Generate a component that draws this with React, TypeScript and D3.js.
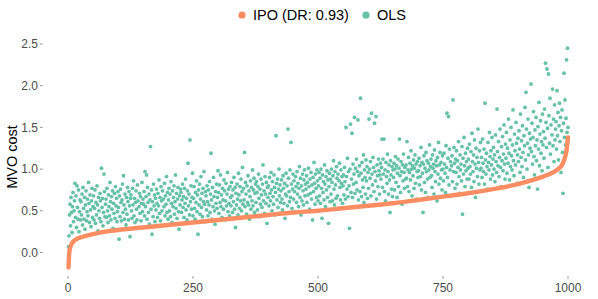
import React, { useEffect, useRef } from "react";
import * as d3 from "d3";

// OLS cost for each of the 1000 runs, 25 per row
const olsCost = [
  0.07, 0.2, 0.45, 0.58, 0.32, 0.66, 0.48, 0.24, 0.55, 0.72, 0.37, 0.5, 0.62, 0.83, 0.42, 0.68, 0.3, 0.8, 0.54, 0.4, 0.75, 0.25, 0.49, 0.63, 0.39,
  0.61, 0.45, 0.7, 0.33, 0.78, 0.53, 0.4, 0.66, 0.28, 0.57, 0.74, 0.38, 0.49, 0.64, 0.44, 0.84, 0.59, 0.36, 0.69, 0.51, 0.31, 0.62, 0.77, 0.42, 0.55,
  0.68, 0.39, 0.53, 0.75, 0.35, 0.6, 0.45, 0.8, 0.57, 0.26, 0.66, 0.5, 0.41, 0.71, 0.62, 0.37, 1.01, 0.54, 0.65, 0.32, 0.48, 0.94, 0.73, 0.43, 0.58,
  0.64, 0.42, 0.77, 0.5, 0.36, 0.69, 0.55, 0.44, 0.84, 0.61, 0.39, 0.67, 0.52, 0.74, 0.29, 0.59, 0.47, 0.71, 0.41, 0.79, 0.56, 0.65, 0.37, 0.49, 0.73,
  0.54, 0.16, 0.68, 0.43, 0.76, 0.6, 0.38, 0.63, 0.82, 0.48, 0.92, 0.57, 0.4, 0.7, 0.52, 0.33, 0.66, 0.46, 0.78, 0.61, 0.39, 0.73, 0.56, 0.19, 0.65,
  0.69, 0.5, 0.41, 0.77, 0.57, 0.86, 0.44, 0.65, 0.36, 0.6, 0.74, 0.52, 0.39, 0.81, 0.62, 0.3, 0.55, 0.71, 0.47, 0.67, 0.38, 0.59, 0.84, 0.49, 0.64,
  0.58, 0.73, 0.44, 0.97, 0.55, 0.67, 0.93, 0.4, 0.78, 0.6, 0.48, 0.7, 0.34, 0.63, 1.27, 0.52, 0.75, 0.22, 0.61, 0.43, 0.82, 0.56, 0.69, 0.37, 0.65,
  0.51, 0.76, 0.59, 0.42, 0.71, 0.56, 0.87, 0.47, 0.66, 0.38, 0.79, 0.62, 0.5, 0.74, 0.32, 0.64, 0.55, 0.83, 0.44, 0.68, 0.58, 0.91, 0.48, 0.72, 0.4,
  0.63, 0.77, 0.5, 0.7, 0.43, 0.85, 0.59, 0.36, 0.74, 0.55, 0.66, 0.8, 0.46, 0.61, 0.93, 0.53, 0.71, 0.41, 0.64, 0.78, 0.49, 0.28, 0.68, 0.57, 0.76,
  0.72, 0.48, 0.63, 0.82, 0.54, 0.67, 0.42, 0.77, 0.59, 0.88, 0.51, 0.65, 0.39, 0.74, 1.07, 0.56, 0.7, 0.45, 1.35, 0.61, 0.8, 0.52, 0.66, 0.95, 0.44,
  0.65, 0.79, 0.53, 0.4, 0.72, 0.6, 0.86, 0.49, 0.69, 0.22, 0.75, 0.57, 0.82, 0.46, 0.64, 0.91, 0.54, 0.71, 0.43, 0.77, 0.61, 0.97, 0.58, 0.37, 0.73,
  0.68, 0.51, 0.8, 0.61, 0.44, 0.75, 0.57, 0.85, 0.48, 0.7, 1.19, 0.63, 0.4, 0.78, 0.55, 0.9, 0.67, 0.5, 0.34, 0.73, 0.59, 0.82, 0.53, 0.66, 0.98,
  0.72, 0.47, 0.81, 0.6, 0.93, 0.55, 0.69, 0.42, 0.77, 0.63, 0.52, 0.87, 0.74, 0.39, 0.62, 0.83, 0.56, 0.7, 0.96, 0.49, 0.76, 0.59, 0.44, 0.79, 0.66,
  0.56, 0.84, 0.68, 0.48, 0.75, 0.61, 0.9, 0.52, 0.78, 0.3, 0.71, 0.57, 0.82, 0.64, 0.45, 0.95, 0.69, 0.53, 0.79, 0.62, 0.88, 0.5, 0.73, 1.02, 0.58,
  0.77, 0.63, 1.2, 0.55, 0.84, 0.7, 0.46, 0.8, 0.6, 0.92, 0.57, 0.74, 0.4, 0.67, 0.86, 0.52, 0.78, 0.62, 0.99, 0.56, 0.75, 0.89, 0.48, 0.71, 0.82,
  0.6, 0.85, 0.72, 0.51, 0.79, 0.94, 0.65, 0.43, 0.76, 0.58, 0.88, 0.69, 0.54, 0.82, 1.05, 0.62, 0.74, 0.47, 0.91, 0.7, 0.59, 0.84, 0.35, 0.78, 0.66,
  0.8, 0.56, 0.9, 0.71, 0.62, 0.96, 0.75, 0.5, 0.85, 0.67, 0.58, 0.93, 0.78, 0.45, 0.72, 1.4, 0.83, 0.63, 0.88, 0.54, 0.76, 1.0, 0.68, 0.81, 0.6,
  0.74, 0.87, 0.64, 0.51, 0.92, 0.77, 0.59, 0.83, 0.41, 0.7, 0.95, 0.68, 0.8, 0.56, 1.48, 0.89, 0.73, 0.61, 0.99, 0.66, 1.32, 0.82, 0.53, 0.76, 0.94,
  0.64, 0.86, 0.73, 0.49, 0.91, 0.79, 0.6, 0.97, 0.7, 0.83, 0.55, 0.77, 1.03, 0.66, 0.89, 0.45, 0.8, 0.62, 0.94, 0.74, 0.57, 0.87, 0.99, 0.68, 0.82,
  0.76, 0.92, 0.6, 0.84, 0.69, 1.01, 0.79, 0.52, 0.88, 0.71, 0.96, 0.64, 0.81, 0.39, 0.9, 0.73, 1.08, 0.83, 0.58, 0.94, 0.77, 0.66, 0.99, 0.86, 0.62,
  0.8, 0.96, 0.68, 0.89, 0.59, 1.0, 0.77, 0.41, 0.93, 0.72, 0.85, 0.63, 1.05, 0.82, 0.55, 0.91, 0.75, 0.98, 0.66, 0.87, 0.35, 0.79, 0.95, 0.61, 0.88,
  0.7, 1.0, 0.84, 0.62, 0.92, 1.1, 0.76, 0.57, 0.97, 0.81, 0.65, 1.03, 0.89, 0.68, 0.94, 0.52, 0.86, 1.07, 0.78, 0.63, 0.99, 0.83, 0.91, 0.59, 0.8,
  0.93, 0.69, 1.02, 0.85, 0.64, 1.5, 0.91, 0.76, 1.13, 0.67, 0.97, 0.8, 0.29, 1.0, 1.54, 0.72, 0.88, 1.43, 0.66, 1.06, 0.82, 0.94, 1.62, 0.71, 1.01,
  0.84, 1.12, 0.75, 0.97, 1.59, 0.63, 0.92, 1.04, 0.73, 1.85, 0.95, 0.67, 1.08, 0.87, 0.78, 1.17, 0.6, 0.99, 0.9, 0.7, 1.11, 0.86, 1.03, 0.65, 0.96,
  0.77, 1.6, 1.0, 0.89, 1.09, 0.68, 1.67, 0.94, 0.81, 1.14, 1.02, 0.73, 1.55, 0.97, 0.86, 1.63, 0.64, 1.05, 0.92, 0.79, 1.12, 0.98, 0.7, 0.93, 1.07,
  0.88, 1.02, 1.36, 0.78, 1.12, 0.94, 1.36, 0.73, 0.99, 0.62, 1.08, 0.91, 0.83, 1.18, 0.97, 0.7, 1.05, 0.87, 0.48, 1.1, 0.93, 0.76, 1.03, 0.67, 0.99,
  0.9, 1.07, 0.75, 1.0, 1.15, 0.84, 1.04, 0.66, 0.95, 1.12, 0.79, 1.01, 1.36, 0.92, 0.72, 1.09, 0.97, 0.58, 1.05, 0.86, 1.18, 0.96, 0.77, 1.02, 0.88,
  1.05, 0.89, 1.33, 0.79, 0.99, 1.14, 0.73, 0.96, 1.07, 0.87, 1.22, 1.0, 0.68, 1.04, 0.92, 1.11, 0.77, 1.01, 1.17, 0.83, 1.06, 0.64, 0.97, 1.09, 0.9,
  0.98, 1.13, 0.81, 1.04, 0.91, 1.26, 0.75, 1.08, 0.95, 0.48, 1.06, 1.16, 0.84, 1.01, 0.72, 1.2, 0.97, 1.1, 0.88, 0.66, 1.07, 0.99, 1.29, 0.9, 1.03,
  1.12, 0.92, 0.78, 1.17, 1.01, 1.06, 0.7, 1.23, 0.97, 0.85, 1.1, 1.04, 0.62, 1.14, 0.94, 1.32, 0.82, 1.05, 1.2, 0.89, 1.08, 0.99, 0.75, 1.16, 1.0,
  0.86, 1.19, 1.06, 0.95, 0.72, 1.28, 1.02, 1.67, 0.9, 1.13, 1.63, 0.81, 1.24, 0.99, 1.09, 0.68, 1.04, 1.16, 0.85, 1.83, 0.97, 1.26, 1.07, 0.77, 1.12,
  0.96, 1.22, 0.82, 1.1, 1.02, 1.33, 0.91, 0.71, 1.17, 0.99, 1.06, 0.86, 1.27, 0.46, 1.13, 0.94, 1.38, 1.04, 0.79, 1.19, 0.98, 1.09, 0.88, 1.25, 1.01,
  1.12, 0.88, 1.3, 1.03, 0.94, 1.21, 0.78, 1.43, 1.09, 0.97, 1.17, 0.85, 1.35, 1.06, 0.66, 1.25, 1.01, 1.14, 0.91, 1.48, 1.08, 0.82, 1.22, 0.99, 1.32,
  1.01, 1.14, 0.9, 1.36, 1.07, 0.97, 1.24, 0.82, 1.79, 1.11, 0.94, 1.19, 1.03, 0.76, 1.32, 1.08, 0.99, 1.44, 1.15, 0.88, 1.22, 1.05, 1.38, 0.93, 1.12,
  1.26, 1.0, 1.17, 0.85, 1.41, 1.09, 0.96, 1.72, 1.21, 1.04, 1.33, 0.91, 1.14, 1.48, 1.02, 0.79, 1.27, 1.1, 1.39, 0.98, 1.18, 1.53, 1.06, 0.88, 1.3,
  1.13, 1.44, 0.95, 1.25, 1.07, 1.6, 1.19, 0.87, 1.35, 1.03, 1.5, 1.16, 0.99, 1.29, 1.71, 1.1, 0.92, 1.42, 1.22, 1.05, 1.56, 1.31, 0.83, 1.17, 1.37,
  1.09, 1.46, 1.24, 0.96, 1.66, 1.14, 1.34, 1.03, 1.52, 1.2, 0.9, 1.4, 1.28, 1.74, 1.11, 1.92, 1.48, 1.0, 1.31, 1.6, 1.17, 0.78, 1.43, 1.25, 1.36,
  2.02, 1.21, 1.55, 1.06, 1.38, 1.69, 1.15, 0.93, 1.47, 1.28, 1.62, 1.1, 1.35, 0.76, 1.51, 1.24, 1.8, 1.04, 1.42, 1.58, 1.19, 1.33, 0.98, 1.66, 1.29,
  1.45, 1.13, 1.72, 1.37, 2.27, 1.56, 1.26, 2.2, 1.49, 1.02, 2.14, 1.64, 1.31, 1.85, 1.18, 1.53, 0.95, 1.41, 1.96, 1.28, 1.6, 1.09, 1.77, 1.35, 1.48,
  1.57, 1.24, 1.94, 1.4, 1.68, 1.11, 1.52, 1.79, 1.33, 1.62, 0.96, 1.46, 1.71, 1.2, 0.71, 1.55, 2.15, 1.38, 1.83, 1.29, 1.61, 2.31, 1.44, 2.45, 1.5,
];

// IPO cost (sorted), read at these run indices
const ipoIndex = [1, 2, 3, 5, 8, 12, 20, 30, 50, 75, 100, 150, 200, 250, 300, 350, 400, 450, 500, 550, 600, 650, 700, 750, 800, 850, 900, 930, 950, 970, 980, 988, 993, 997, 1000];
const ipoCost = [-0.18, -0.05, 0.02, 0.07, 0.11, 0.14, 0.17, 0.19, 0.22, 0.25, 0.27, 0.3, 0.33, 0.36, 0.39, 0.42, 0.45, 0.48, 0.5, 0.53, 0.56, 0.59, 0.63, 0.67, 0.71, 0.76, 0.82, 0.87, 0.91, 0.96, 1.0, 1.05, 1.12, 1.22, 1.38];

const xTicks = [0, 250, 500, 750, 1000];
const yTicks = [0, 0.5, 1, 1.5, 2, 2.5];
const legendLabels = ["IPO (DR: 0.93)", "OLS"];

const W = 598;
const H = 299;
const ORANGE = "#FC8D62";
const TEAL = "#66C2A5";
const FONT = "'Liberation Sans', Arial, Helvetica, sans-serif";

export default function App() {
  const ref = useRef<SVGSVGElement>(null);

  useEffect(() => {
    const svg = d3.select(ref.current);
    svg.selectAll("*").remove();

    const x = d3.scaleLinear().domain([0, 1000]).range([68, 568]);
    const y = d3.scaleLinear().domain([0, 2.5]).range([252.5, 44]);

    // y axis: labels + short ticks
    const yAxis = svg.append("g");
    yAxis.selectAll("text").data(yTicks).enter().append("text")
      .attr("x", 38).attr("y", d => y(d)).attr("dy", "0.35em")
      .attr("text-anchor", "end")
      .attr("font-size", 12).attr("fill", "#4D4D4D")
      .text(d => d3.format(".1f")(d));
    yAxis.selectAll("line").data(yTicks).enter().append("line")
      .attr("x1", 40).attr("x2", 42.7).attr("y1", d => y(d)).attr("y2", d => y(d))
      .attr("stroke", "#4D4D4D").attr("stroke-width", 0.6);

    // x axis
    const xAxis = svg.append("g");
    xAxis.selectAll("text").data(xTicks).enter().append("text")
      .attr("x", d => x(d)).attr("y", 291.5)
      .attr("text-anchor", "middle")
      .attr("font-size", 12).attr("fill", "#4D4D4D")
      .text(d => String(d));
    xAxis.selectAll("line").data(xTicks).enter().append("line")
      .attr("x1", d => x(d)).attr("x2", d => x(d)).attr("y1", 276).attr("y2", 278.7)
      .attr("stroke", "#4D4D4D").attr("stroke-width", 0.6);

    svg.append("text")
      .attr("transform", `translate(16.5,157) rotate(-90)`)
      .attr("text-anchor", "middle")
      .attr("font-size", 14.5).attr("fill", "#000")
      .text("MVO cost");

    // OLS points
    svg.append("g").selectAll("circle").data(olsCost).enter().append("circle")
      .attr("cx", (d, i) => x(i + 1))
      .attr("cy", d => y(d))
      .attr("r", 1.9)
      .attr("fill", TEAL);

    // IPO curve
    const pts = ipoIndex.map((k, i) => [k, ipoCost[i]] as [number, number]);
    const line = d3.line<[number, number]>()
      .x(d => x(d[0])).y(d => y(d[1]))
      .curve(d3.curveMonotoneX);
    svg.append("path")
      .attr("d", line(pts) || "")
      .attr("fill", "none")
      .attr("stroke", ORANGE)
      .attr("stroke-width", 4.4)
      .attr("stroke-linecap", "round")
      .attr("stroke-linejoin", "round");

    // legend
    const leg = svg.append("g");
    const legX = [242, 366];
    const legCol = [ORANGE, TEAL];
    legendLabels.forEach((lab, i) => {
      leg.append("circle").attr("cx", legX[i]).attr("cy", 15).attr("r", 3.6).attr("fill", legCol[i]);
      leg.append("text").attr("x", legX[i] + 11).attr("y", 15).attr("dy", "0.35em")
        .attr("font-size", 14.5).attr("fill", "#000").text(lab);
    });
  }, []);

  return (
    <svg
      ref={ref}
      width={W}
      height={H}
      style={{ position: "absolute", left: 0, top: 0, background: "#fff", fontFamily: FONT }}
    />
  );
}
